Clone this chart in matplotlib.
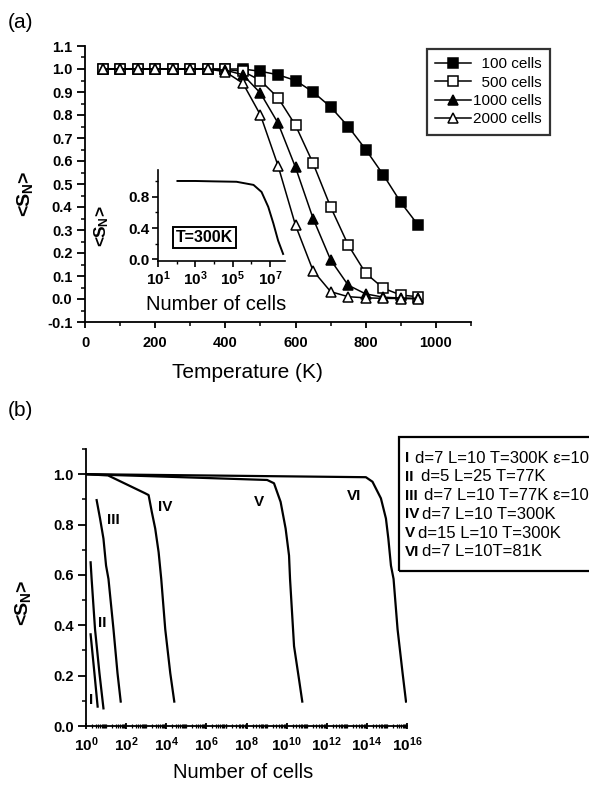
import math
import matplotlib
matplotlib.use("Agg")
import matplotlib.pyplot as plt
from matplotlib.patches import Rectangle
from matplotlib.ticker import FixedLocator, MultipleLocator, LogLocator, NullFormatter

plt.rcParams["font.family"] = ["Liberation Sans", "DejaVu Sans"]
plt.rcParams["mathtext.fontset"] = "custom"
plt.rcParams["mathtext.rm"] = "Liberation Sans:bold"
plt.rcParams["mathtext.bf"] = "Liberation Sans:bold"
plt.rcParams["mathtext.it"] = "Liberation Sans:bold"

# ---- panel (a) data: order parameter vs temperature ----
temps = [50, 100, 150, 200, 250, 300, 350, 400, 450, 500,
         550, 600, 650, 700, 750, 800, 850, 900, 950]
s_100 = [1.0, 1.0, 1.0, 1.0, 1.0, 1.0, 1.0, 1.0, 1.0, 0.99,
         0.975, 0.95, 0.90, 0.835, 0.75, 0.65, 0.54, 0.42, 0.32]
s_500 = [1.0, 1.0, 1.0, 1.0, 1.0, 1.0, 1.0, 0.998, 0.99, 0.95,
         0.875, 0.755, 0.59, 0.40, 0.235, 0.112, 0.047, 0.017, 0.01]
s_1000 = [1.0, 1.0, 1.0, 1.0, 1.0, 1.0, 1.0, 0.995, 0.975, 0.895,
          0.765, 0.572, 0.35, 0.17, 0.06, 0.022, 0.008, 0.004, 0.003]
s_2000 = [1.0, 1.0, 1.0, 1.0, 1.0, 1.0, 1.0, 0.988, 0.938, 0.80,
          0.58, 0.32, 0.123, 0.032, 0.01, 0.005, 0.003, 0.002, 0.001]
legend_a = ["  100 cells", "  500 cells", "1000 cells", "2000 cells"]

# inset: T=300K vs number of cells
inset_n = [1.1e2, 1e3, 1e4, 1.6e5, 1.3e6, 3.5e6, 8e6, 1.5e7, 2.7e7, 5e7]
inset_s = [1.0, 1.0, 0.995, 0.99, 0.95, 0.86, 0.67, 0.46, 0.24, 0.07]

# ---- panel (b) data: curves I..VI, log10(N) and <S_N> ----
curve_logn = {
    "I": [0.23, 0.42, 0.58],
    "II": [0.23, 0.28, 0.45, 0.67, 0.87],
    "III": [0.53, 0.70, 0.87, 1.0, 1.12, 1.37, 1.57, 1.73],
    "IV": [0.0, 1.1, 2.95, 3.12, 3.28, 3.45, 3.62, 3.75, 3.95, 4.2, 4.4],
    "V": [0.0, 4.0, 9.03, 9.37, 9.7, 9.95, 10.12, 10.17, 10.37, 10.62, 10.78],
    "VI": [0.0, 7.0, 13.95, 14.28, 14.7, 14.95, 15.07, 15.2, 15.33, 15.53, 15.78, 15.95],
}
curve_s = {
    "I": [0.364, 0.21, 0.077],
    "II": [0.65, 0.584, 0.384, 0.21, 0.07],
    "III": [0.897, 0.824, 0.744, 0.637, 0.584, 0.384, 0.21, 0.097],
    "IV": [1.0, 0.995, 0.924, 0.917, 0.85, 0.784, 0.69, 0.584, 0.384, 0.21, 0.097],
    "V": [1.0, 0.99, 0.977, 0.964, 0.89, 0.784, 0.677, 0.584, 0.317, 0.184, 0.097],
    "VI": [1.0, 0.994, 0.988, 0.97, 0.904, 0.824, 0.744, 0.637, 0.584, 0.384, 0.21, 0.097],
}
curve_label_pos = {
    "I": (0.26, 0.105), "II": (0.83, 0.41), "III": (1.37, 0.82),
    "IV": (3.95, 0.87), "V": (8.6, 0.89), "VI": (13.35, 0.915),
}
legend_b_num = ["I", "II", "III", "IV", "V", "VI"]
legend_b_txt = ["d=7 L=10 T=300K \u03b5=10", "d=5 L=25 T=77K", "d=7 L=10 T=77K \u03b5=10",
                "d=7 L=10 T=300K", "d=15 L=10 T=300K", "d=7 L=10T=81K"]
legend_b_x = [415, 421, 424, 422, 418, 422]

W, H = 589, 789
fig = plt.figure(figsize=(W / 100, H / 100), dpi=100)


def fx(px):
    return px / W


def fy(py):
    return 1 - py / H


def style_axes(ax, lw=1.3):
    for s in ["top", "right"]:
        ax.spines[s].set_visible(False)
    for s in ["left", "bottom"]:
        ax.spines[s].set_linewidth(lw)
    for lab in ax.get_xticklabels() + ax.get_yticklabels():
        lab.set_fontweight("bold")


def pow10(v, p):
    return "10$^{%d}$" % round(math.log10(v))


ylab = "<S$_{\\mathbf{N}}$>"

# ---------------- panel (a) ----------------
ax = fig.add_axes([fx(85), fy(322), fx(471 - 85), (322 - 46) / H])
mk = dict(color="black", lw=1.1, ms=7, mew=1.1, mec="black")
ax.plot(temps, s_100, marker="s", mfc="black", label=legend_a[0], **mk)
ax.plot(temps, s_500, marker="s", mfc="white", label=legend_a[1], ms=6.5,
        color="black", lw=1.1, mew=1.1, mec="black")
ax.plot(temps, s_1000, marker="^", mfc="black", label=legend_a[2], **mk)
ax.plot(temps, s_2000, marker="^", mfc="white", label=legend_a[3], **mk)
ax.set_xlim(0, 1100)
ax.set_ylim(-0.1, 1.1)
ax.xaxis.set_major_locator(FixedLocator([0, 200, 400, 600, 800, 1000]))
ax.xaxis.set_minor_locator(FixedLocator([100, 300, 500, 700, 900, 1100]))
ax.yaxis.set_major_locator(FixedLocator([-0.1, 0, 0.1, 0.2, 0.3, 0.4, 0.5, 0.6,
                                         0.7, 0.8, 0.9, 1.0, 1.1]))
ax.yaxis.set_minor_locator(MultipleLocator(0.05))
ax.yaxis.set_major_formatter(lambda v, p: "%.1f" % v)
ax.tick_params(axis="y", which="major", length=6, width=1.3, labelsize=10.5, pad=3)
ax.tick_params(axis="y", which="minor", length=3, width=1.1)
ax.tick_params(axis="x", which="major", length=4, width=1.3, labelsize=10.5, pad=6)
ax.tick_params(axis="x", which="minor", length=3, width=1.1)
style_axes(ax)
leg = ax.legend(loc="upper left", bbox_to_anchor=(fx(427), fy(49)),
                bbox_transform=fig.transFigure, fontsize=11, frameon=True,
                fancybox=False, edgecolor="black", handlelength=2.3,
                handletextpad=0.15, labelspacing=0.28, borderpad=0.55,
                borderaxespad=0)
leg.get_frame().set_linewidth(1.6)
for h in leg.legend_handles:
    h.set_markersize(6.5)

fig.text(fx(25), fy(194), ylab, rotation=90, ha="center", va="center",
         fontsize=14, fontweight="bold")
fig.text(fx(247), fy(372), "Temperature (K)", ha="center", va="center", fontsize=15)
fig.text(fx(8), fy(22), "(a)", ha="left", va="center", fontsize=15)

# inset (transparent background so the main curves stay visible)
axi = fig.add_axes([fx(158), fy(261), fx(127), 91 / H])
axi.patch.set_alpha(0)
axi.plot(inset_n, inset_s, color="black", lw=1.4)
axi.set_xscale("log")
axi.set_xlim(10, 10 ** 7.8)
axi.set_ylim(-0.02, 1.14)
axi.xaxis.set_major_locator(FixedLocator([1e1, 1e3, 1e5, 1e7]))
axi.xaxis.set_minor_locator(FixedLocator([1e2, 1e4, 1e6]))
axi.xaxis.set_minor_formatter(NullFormatter())
axi.xaxis.set_major_formatter(pow10)
axi.yaxis.set_major_locator(FixedLocator([0.0, 0.4, 0.8]))
axi.yaxis.set_minor_locator(FixedLocator([0.2, 0.6, 1.0]))
axi.yaxis.set_major_formatter(lambda v, p: "%.1f" % v)
axi.tick_params(which="major", length=4, width=1.2, labelsize=11, pad=2)
axi.tick_params(which="minor", length=2.5, width=1.0)
style_axes(axi, 1.2)
axi.set_ylabel(ylab, fontsize=12.5, fontweight="bold")
axi.yaxis.set_label_coords(-0.37, 0.38)
axi.set_xlabel("Number of cells", fontsize=14.5)
axi.xaxis.set_label_coords(0.46, -0.37)
axi.text(0.365, 0.255, "T=300K", transform=axi.transAxes, ha="center", va="center",
         fontsize=11.5, fontweight="bold",
         bbox=dict(boxstyle="square,pad=0.2", fc="white", ec="black", lw=1.4))

# ---------------- panel (b) ----------------
bx = fig.add_axes([fx(86), fy(726), fx(407 - 86), (726 - 449) / H])
for name in legend_b_num:
    bx.plot([10 ** v for v in curve_logn[name]], curve_s[name], color="black", lw=1.6)
    lx, ly = curve_label_pos[name]
    bx.text(10 ** lx, ly, name, ha="center", va="center", fontsize=11, fontweight="bold")
bx.set_xscale("log")
bx.set_xlim(1, 1e16)
bx.set_ylim(0, 1.1)
bx.xaxis.set_major_locator(FixedLocator([10.0 ** k for k in range(0, 17, 2)]))
bx.xaxis.set_minor_locator(LogLocator(base=10, subs=(1, 2, 3, 4, 5, 6, 7, 8, 9), numticks=100))
bx.xaxis.set_minor_formatter(NullFormatter())
bx.xaxis.set_major_formatter(pow10)
bx.yaxis.set_major_locator(FixedLocator([0.0, 0.2, 0.4, 0.6, 0.8, 1.0]))
bx.yaxis.set_minor_locator(FixedLocator([0.1, 0.3, 0.5, 0.7, 0.9, 1.1]))
bx.yaxis.set_major_formatter(lambda v, p: "%.1f" % v)
bx.tick_params(axis="y", which="major", length=6, width=1.3, labelsize=10.5, pad=3)
bx.tick_params(axis="y", which="minor", length=3, width=1.1)
bx.tick_params(axis="x", which="major", length=4, width=1.3, labelsize=11, pad=5,
               direction="inout")
bx.tick_params(axis="x", which="minor", length=3, width=0.9, direction="inout")
style_axes(bx)

fig.text(fx(23), fy(603), ylab, rotation=90, ha="center", va="center",
         fontsize=14, fontweight="bold")
fig.text(fx(243), fy(772), "Number of cells", ha="center", va="center", fontsize=14.5)
fig.text(fx(8), fy(410), "(b)", ha="left", va="center", fontsize=15)

# legend box for panel (b), clipped by the right edge of the figure
fig.add_artist(Rectangle((fx(399), fy(571)), 0.5, (571 - 437) / H, fill=False,
                         ec="black", lw=1.6, transform=fig.transFigure))
for i, (num, txt) in enumerate(zip(legend_b_num, legend_b_txt)):
    yy = fy(458 + i * 18.8)
    fig.text(fx(405), yy, num, ha="left", va="center", fontsize=11, fontweight="bold")
    fig.text(fx(legend_b_x[i]), yy, txt, ha="left", va="center", fontsize=12)

fig.savefig("out.png", dpi=100)
